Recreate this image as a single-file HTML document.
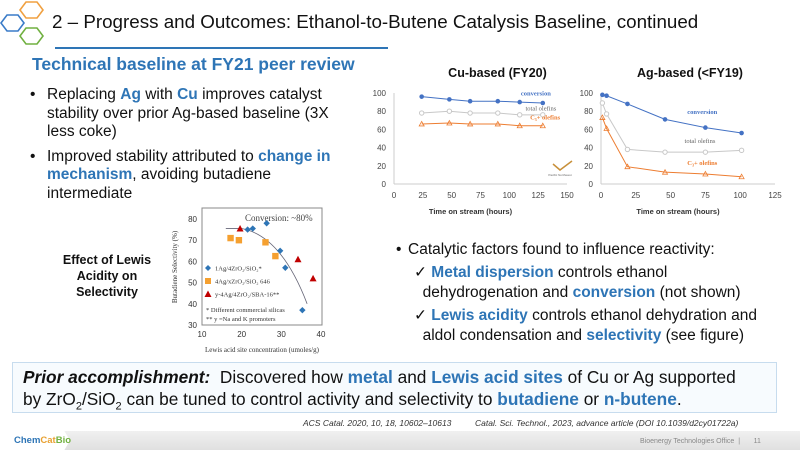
<!DOCTYPE html>
<html><head><meta charset="utf-8"><style>
body{margin:0;width:800px;height:450px;overflow:hidden;background:#fff;font-family:"Liberation Sans",Arial,sans-serif;position:relative}
.a{position:absolute}
.b{color:#2e75b6;font-weight:bold}
.bl{position:relative;padding-left:17px}
.bl .d{position:absolute;left:0;top:0}
</style></head><body>
<svg class="a" style="left:0;top:0" width="52" height="52">
<polygon points="20,10 26,2 37,2 43,10 37,18 26,18" fill="none" stroke="#f0a040" stroke-width="1.6"/>
<polygon points="1,23 7,15 18,15 24,23 18,31 7,31" fill="none" stroke="#3a7bc8" stroke-width="1.6"/>
<polygon points="20,36 26,28 37,28 43,36 37,44 26,44" fill="none" stroke="#70b040" stroke-width="1.6"/>
</svg>
<div class="a" style="left:52px;top:11px;font-size:18.8px;color:#111">2 – Progress and Outcomes: Ethanol-to-Butene Catalysis Baseline, continued</div>
<div class="a" style="left:55px;top:47px;width:333px;height:2px;background:#2e75b6"></div>
<div class="a b" style="left:32px;top:54px;font-size:17.5px">Technical baseline at FY21 peer review</div>
<div class="a" style="left:30px;top:86px;width:310px;font-size:15.5px;line-height:18.5px;color:#111">
<div class="bl" style="margin-bottom:6px"><span class="d">•</span>Replacing <span class="b">Ag</span> with <span class="b">Cu</span> improves catalyst stability over prior Ag-based baseline (3X less coke)</div>
<div class="bl"><span class="d">•</span>Improved stability attributed to <span class="b">change in mechanism</span>, avoiding butadiene intermediate</div>
</div>
<div class="a" style="left:48px;top:252px;width:118px;text-align:center;font-size:12.5px;font-weight:bold;line-height:16px;color:#111">Effect of Lewis Acidity on Selectivity</div>

<svg class="a" style="left:150px;top:175px" width="200" height="180" id="sc"></svg>
<svg class="a" style="left:360px;top:60px" width="440" height="160" id="lc"></svg>

<div class="a" style="left:396px;top:240px;width:380px;font-size:15.5px;line-height:20px;color:#111">
<div class="bl" style="padding-left:12px"><span class="d">•</span>Catalytic factors found to influence reactivity:</div>
<div style="margin:3px 0 0 18px;padding-left:0;width:340px">✓ <span class="b">Metal dispersion</span> controls ethanol<br>&nbsp;&nbsp;dehydrogenation and <span class="b">conversion</span> (not shown)</div>
<div style="margin:3px 0 0 18px;width:360px">✓ <span class="b">Lewis acidity</span> controls ethanol dehydration and<br>&nbsp;&nbsp;aldol condensation and <span class="b">selectivity</span> (see figure)</div>
</div>

<div class="a" style="left:12px;top:362px;width:765px;height:51px;border:1px solid #c7dcee;background:#f7fbfe;font-size:17.3px;line-height:22px;color:#111;padding:3px 0 0 10px;box-sizing:border-box">
<b><i>Prior accomplishment:</i></b>&nbsp; Discovered how <span class="b">metal</span> and <span class="b">Lewis acid sites</span> of Cu or Ag supported<br>by ZrO<sub style="font-size:11px">2</sub>/SiO<sub style="font-size:11px">2</sub> can be tuned to control activity and selectivity to <span class="b">butadiene</span> or <span class="b">n-butene</span>.</div>
<div class="a" style="left:303px;top:418px;font-size:8.5px;font-style:italic;color:#333">ACS Catal. 2020, 10, 18, 10602–10613 &nbsp;&nbsp;&nbsp;&nbsp;&nbsp;&nbsp;&nbsp;&nbsp; Catal. Sci. Technol., 2023, advance article (DOI 10.1039/d2cy01722a)</div>
<div class="a" style="left:0;top:431px;width:800px;height:19px;background:linear-gradient(#f0f0f0,#e0e0e0)"></div>
<div class="a" style="left:0;top:431px;width:70px;height:19px;background:#fff;clip-path:polygon(0 0,92% 0,100% 50%,92% 100%,0 100%)"></div>
<div class="a" style="left:14px;top:435px;font-size:9.5px;font-weight:bold;color:#2e75b6">Chem<span style="color:#e8a030">Cat</span><span style="color:#70b040">Bio</span></div>
<div class="a" style="left:640px;top:438px;font-size:7px;color:#888">Bioenergy Technologies Office &nbsp;| &nbsp;&nbsp;&nbsp;&nbsp;&nbsp; 11</div>

<script>
const NS="http://www.w3.org/2000/svg";
function mk(p,t,a,txt){const e=document.createElementNS(NS,t);for(const k in a)e.setAttribute(k,a[k]);if(txt!==undefined)e.textContent=txt;p.appendChild(e);return e;}
// ---- line chart data ----
const cuX=[24,48,66,90,109,129];
const cuConv=[96,93,91,91,90,89];
const cuTotal=[78,80,78,78,76,76];
const cuC3=[66,67,66,66,64,64];
const agX=[1,4,19,46,75,101];
const agConv=[98,97,88,71,62,56];
const agTotal=[89,77,38,35,35,37];
const agC3=[73,61,19,13,11,8];
const yTicks=[0,20,40,60,80,100];
const cuXTicks=[0,25,50,75,100,125,150];
const agXTicks=[0,25,50,75,100,125];
const lc=document.getElementById('lc');
function panel(ox,xmax,xw,ticks,title,tdx,series,labels){
  const X=v=>ox+v*xw/xmax, Y=v=>124-v*0.91;
  const t=mk(lc,'text',{x:ox+xw/2+tdx,y:17,'text-anchor':'middle','font-size':12.5,'font-weight':'bold',fill:'#111'},title);
  
  yTicks.forEach(v=>{mk(lc,'text',{x:ox-8,y:Y(v)+3,'text-anchor':'end','font-size':8,fill:'#444'},v);});
  mk(lc,'line',{x1:ox,y1:Y(0),x2:ox,y2:Y(100),stroke:'#ccc'});
  mk(lc,'line',{x1:ox,y1:Y(0),x2:X(xmax),y2:Y(0),stroke:'#ccc'});
  ticks.forEach(v=>{mk(lc,'text',{x:X(v),y:138,'text-anchor':'middle','font-size':8,fill:'#444'},v);});
  mk(lc,'text',{x:X(xmax/2)-10,y:154,'text-anchor':'middle','font-size':7.5,'font-weight':'bold',fill:'#333'},'Time on stream (hours)');
  series.forEach(s=>{
    const g=mk(lc,'g',{});
    let d='';s.x.forEach((x,i)=>d+=(i?'L':'M')+X(x)+','+Y(s.y[i]));
    mk(g,'path',{d:d,fill:'none',stroke:s.c,'stroke-width':1});
    s.x.forEach((x,i)=>{
      if(s.m==='c')mk(g,'circle',{cx:X(x),cy:Y(s.y[i]),r:2.3,fill:s.c});
      else if(s.m==='o')mk(g,'circle',{cx:X(x),cy:Y(s.y[i]),r:2.2,fill:'#fff',stroke:s.c});
      else mk(g,'path',{d:`M${X(x)-2.5},${Y(s.y[i])+2}L${X(x)+2.5},${Y(s.y[i])+2}L${X(x)},${Y(s.y[i])-2.5}Z`,fill:'none',stroke:s.c,'stroke-width':0.8});
    });
  });
  labels.forEach(l=>mk(lc,'text',{x:X(l[0]),y:Y(l[1]),'font-size':6.5,'font-family':'Liberation Serif',fill:l[2],'font-weight':l[3]||'normal'},l[4]));
}
panel(34,150,173,cuXTicks,'Cu-based (FY20)',17,[
 {name:'cu-total-olefins',x:cuX,y:cuTotal,c:'#c8c8c8',m:'o'},
 {name:'cu-c3-olefins',x:cuX,y:cuC3,c:'#ed7d31',m:'t'},
 {name:'cu-conversion',x:cuX,y:cuConv,c:'#4472c4',m:'c'}],
 [[110,97,'#4472c4','bold','conversion'],[114,81,'#666','','total olefins'],[118,71,'#ed7d31','bold','C\u2083+ olefins']]);
panel(241,125,174,agXTicks,'Ag-based (<FY19)',2,[
 {name:'ag-total-olefins',x:agX,y:agTotal,c:'#c8c8c8',m:'o'},
 {name:'ag-c3-olefins',x:agX,y:agC3,c:'#ed7d31',m:'t'},
 {name:'ag-conversion',x:agX,y:agConv,c:'#4472c4',m:'c'}],
 [[62,77,'#4472c4','bold','conversion'],[60,45,'#666','','total olefins'],[62,21,'#ed7d31','bold','C\u2083+ olefins']]);
mk(lc,'path',{d:'M193,104 L200,110 L212,101',fill:'none',stroke:'#c8903a','stroke-width':1.5});
mk(lc,'text',{x:200,y:116,'text-anchor':'middle','font-size':3,fill:'#666'},'Pacific Northwest');
// ---- scatter data ----
const blueX=[21.5,22.8,26.3,29.7,31,35.3];
const blueY=[75,75.5,78,65,57,37];
const orangeX=[17.2,19.3,26,28.5];
const orangeY=[71,70,69,62.5];
const redX=[19.6,34.2,38];
const redY=[75.5,61,52];
const sxTicks=[10,20,30,40];
const syTicks=[30,40,50,60,70,80];
const sc=document.getElementById('sc');
const SX=v=>52+(v-10)*(119/30), SY=v=>150-(v-30)*(106/50);
mk(sc,'rect',{x:52,y:33,width:120,height:117,fill:'#fff',stroke:'#888'});
syTicks.forEach(v=>mk(sc,'text',{x:47,y:SY(v)+3,'text-anchor':'end','font-size':8,fill:'#333'},v));
sxTicks.forEach(v=>mk(sc,'text',{x:SX(v),y:162,'text-anchor':'middle','font-size':8,fill:'#333'},v));
mk(sc,'text',{x:112,y:177,'text-anchor':'middle','font-size':7,'font-family':'Liberation Serif',fill:'#333'},'Lewis acid site concentration (umoles/g)');
mk(sc,'text',{x:0,y:0,transform:'translate(27,92) rotate(-90)','text-anchor':'middle','font-size':7,'font-family':'Liberation Serif',fill:'#333'},'Butadiene Selectivity (%)');
mk(sc,'text',{x:95,y:46,'font-size':9,'font-family':'Liberation Serif',fill:'#444'},'Conversion: ~80%');
mk(sc,'path',{d:`M${SX(16)},${SY(75.5)} L${SX(20)},${SY(75.5)} Q${SX(30)},${SY(72)} ${SX(36.5)},${SY(40)}`,fill:'none',stroke:'#667','stroke-width':0.8});
const gb=mk(sc,'g',{});
blueX.forEach((x,i)=>mk(gb,'path',{d:`M${SX(x)},${SY(blueY[i])-3.2}l3.2,3.2l-3.2,3.2l-3.2,-3.2Z`,fill:'#2e75b6'}));
const go=mk(sc,'g',{});
orangeX.forEach((x,i)=>mk(go,'rect',{x:SX(x)-3.2,y:SY(orangeY[i])-3.2,width:6.4,height:6.4,fill:'#f5a030'}));
const gr=mk(sc,'g',{});
redX.forEach((x,i)=>mk(gr,'path',{d:`M${SX(x)-3.5},${SY(redY[i])+3}h7l-3.5,-6.5Z`,fill:'#c00000'}));
const lg=[[93,'#2e75b6','d','1Ag/4ZrO\u2082/SiO\u2082*'],[106,'#f5a030','s','4Ag/xZrO\u2082/SiO\u2082 646'],[119,'#c00000','t','y-4Ag/4ZrO\u2082/SBA-16**']];
lg.forEach(l=>{const x=58,y=l[0];
 if(l[2]==='d')mk(sc,'path',{d:`M${x},${y-3}l3,3l-3,3l-3,-3Z`,fill:l[1]});
 else if(l[2]==='s')mk(sc,'rect',{x:x-3,y:y-3,width:6,height:6,fill:l[1]});
 else mk(sc,'path',{d:`M${x-3.5},${y+3}h7l-3.5,-6.5Z`,fill:l[1]});
 mk(sc,'text',{x:65,y:y+2.5,'font-size':6.5,'font-family':'Liberation Serif',fill:'#333'},l[3]);});
mk(sc,'text',{x:56,y:137,'font-size':6.5,'font-family':'Liberation Serif',fill:'#333'},'* Different commercial silicas');
mk(sc,'text',{x:56,y:146,'font-size':6.5,'font-family':'Liberation Serif',fill:'#333'},'** y =Na and K promoters');
</script>
</body></html>
